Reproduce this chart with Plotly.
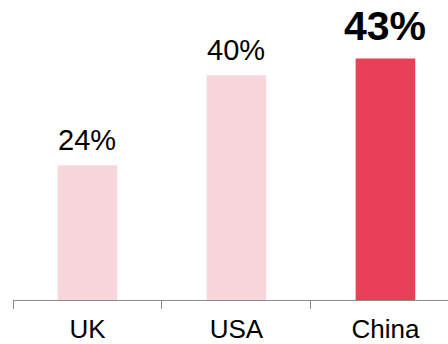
import plotly.graph_objects as go

# Share of respondents by country
countries = ["UK", "USA", "China"]
shares = [24, 40, 43]
bar_colors = ["#F8D7DC", "#F8D7DC", "#E84057"]
label_texts = ["24%", "40%", "<b>43%</b>"]
label_sizes = [29, 29, 41]

fig = go.Figure(
    go.Bar(
        x=countries,
        y=shares,
        marker=dict(color=bar_colors, line=dict(width=0)),
        width=0.4,
        hoverinfo="skip",
    )
)

for c, v, t, s in zip(countries, shares, label_texts, label_sizes):
    fig.add_annotation(
        x=c, y=v, text=t, showarrow=False,
        yanchor="bottom", yshift=7,
        font=dict(family="Liberation Sans, Arial, sans-serif", size=s, color="#000000"),
    )

fig.update_layout(
    width=448, height=344,
    margin=dict(l=13, r=0, t=0, b=42),
    paper_bgcolor="white", plot_bgcolor="white",
    showlegend=False,
    xaxis=dict(
        range=[-0.5, 2.42],
        showline=True, linecolor="#8C8C8C", linewidth=1.2,
        ticks="outside", tickson="boundaries", ticklen=8,
        tickcolor="#8C8C8C", tickwidth=1.2,
        ticklabelstandoff=6,
        tickfont=dict(family="Liberation Sans, Arial, sans-serif", size=26, color="#000000"),
        showgrid=False, zeroline=False,
    ),
    yaxis=dict(
        range=[0, 53.4], visible=False, showgrid=False, zeroline=False,
    ),
)

fig.write_html("out.html")
